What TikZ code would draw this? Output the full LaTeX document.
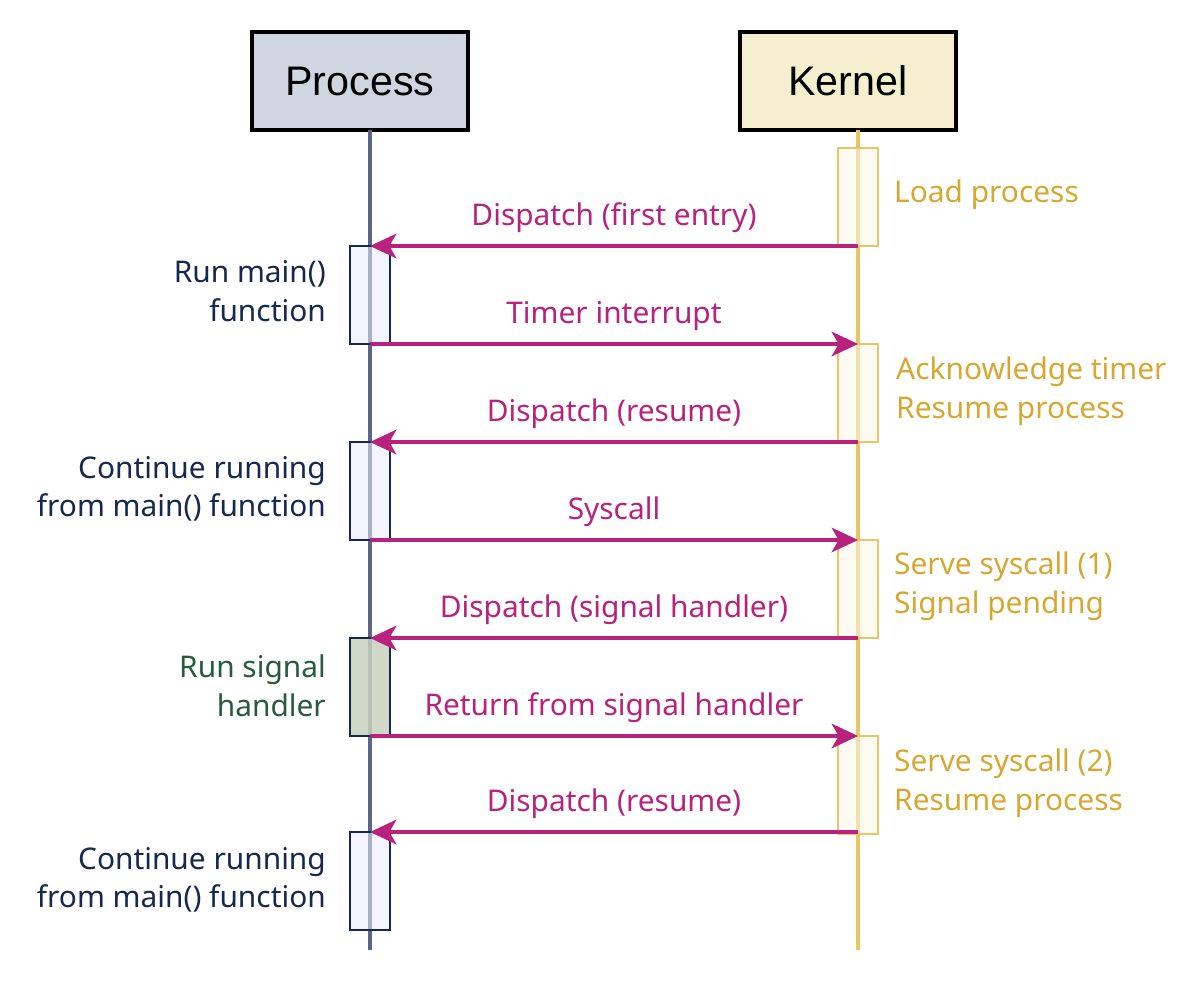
\documentclass[tikz,border=0pt]{standalone}
\usepackage{fontspec}
\setmainfont{Noto Sans}
\newfontfamily\hdr{Liberation Sans}
\usetikzlibrary{arrows.meta}
\definecolor{msg}{RGB}{184,34,124}
\definecolor{gold}{RGB}{214,168,50}
\definecolor{goldl}{RGB}{232,198,100}
\definecolor{navy}{RGB}{22,40,80}
\definecolor{pline}{RGB}{90,104,136}
\definecolor{grn}{RGB}{40,90,62}
\tikzset{
 hd/.style={draw=black,line width=2pt,minimum width=4.32cm,minimum height=1.96cm,font=\hdr\fontsize{23.5}{26}\selectfont},
 pact/.style={draw=navy,line width=0.9pt,fill=blue!8!white,fill opacity=0.55,minimum width=0.8cm,minimum height=1.96cm,inner sep=0},
 kact/.style={draw=goldl,line width=0.9pt,fill=goldl!15!white,fill opacity=0.55,minimum width=0.8cm,minimum height=1.96cm,inner sep=0},
 m/.style={draw=msg,line width=2pt,-{Stealth[length=15pt,width=14pt,inset=4pt]}},
 ml/.style={text=msg,font=\fontsize{17}{20}\selectfont,above=3pt},
 pt/.style={text=navy,font=\fontsize{17}{22}\selectfont,align=right,anchor=east},
 kt/.style={text=gold,font=\fontsize{17}{22}\selectfont,align=left,anchor=west},
}
\begin{document}
\begin{tikzpicture}[x=0.02cm,y=-0.02cm]
\useasboundingbox (0,0) rectangle (1200,992);
\node[hd,fill={rgb,255:red,207;green,214;blue,224}] (P) at (360,81) {Process};
\node[hd,fill={rgb,255:red,245;green,239;blue,208}] (K) at (848,81) {Kernel};
\coordinate (Pend) at (370,950); \coordinate (Kend) at (858,950);
\draw[pline,line width=2.5pt] (370,130) -- (Pend);
\draw[goldl,line width=2.5pt] (858,130) -- (Kend);
% kernel activations
\node[kact] (k1) at (858,197) {};
\node[kact] (k2) at (858,393) {};
\node[kact] (k3) at (858,589) {};
\node[kact] (k4) at (858,785) {};
% process activations
\node[pact] (p1) at (370,295) {};
\node[pact] (p2) at (370,491) {};
\node[pact,fill={rgb,255:red,200;green,210;blue,190},fill opacity=0.85] (p3) at (370,687) {};
\node[pact] (p4) at (370,881) {};
% points
\foreach \n/\y in {a/246,b/344,c/442,d/540,e/638,f/736,g/832}{
 \coordinate (P\n) at (370,\y); \coordinate (K\n) at (858,\y);}
\draw[m] (Ka) -- node[ml]{Dispatch (first entry)} (Pa);
\draw[m] (Pb) -- node[ml]{Timer interrupt} (Kb);
\draw[m] (Kc) -- node[ml]{Dispatch (resume)} (Pc);
\draw[m] (Pd) -- node[ml]{Syscall} (Kd);
\draw[m] (Ke) -- node[ml]{Dispatch (signal handler)} (Pe);
\draw[m] (Pf) -- node[ml]{Return from signal handler} (Kf);
\draw[m] (Kg) -- node[ml]{Dispatch (resume)} (Pg);
% process texts
\node[pt] (t1) at (332,291) {Run main()\\function};
\node[pt] (t2) at (332,489) {Continue running\\from main() function};
\node[pt,text=grn] (t3) at (332,686) {Run signal\\handler};
\node[pt] (t4) at (332,880) {Continue running\\from main() function};
% kernel texts
\node[kt] (u1) at (888,195) {Load process};
\node[kt] (u2) at (890,391) {Acknowledge timer\\Resume process};
\node[kt] (u3) at (888,586) {Serve syscall (1)\\Signal pending};
\node[kt] (u4) at (888,783) {Serve syscall (2)\\Resume process};
\end{tikzpicture}
\end{document}
